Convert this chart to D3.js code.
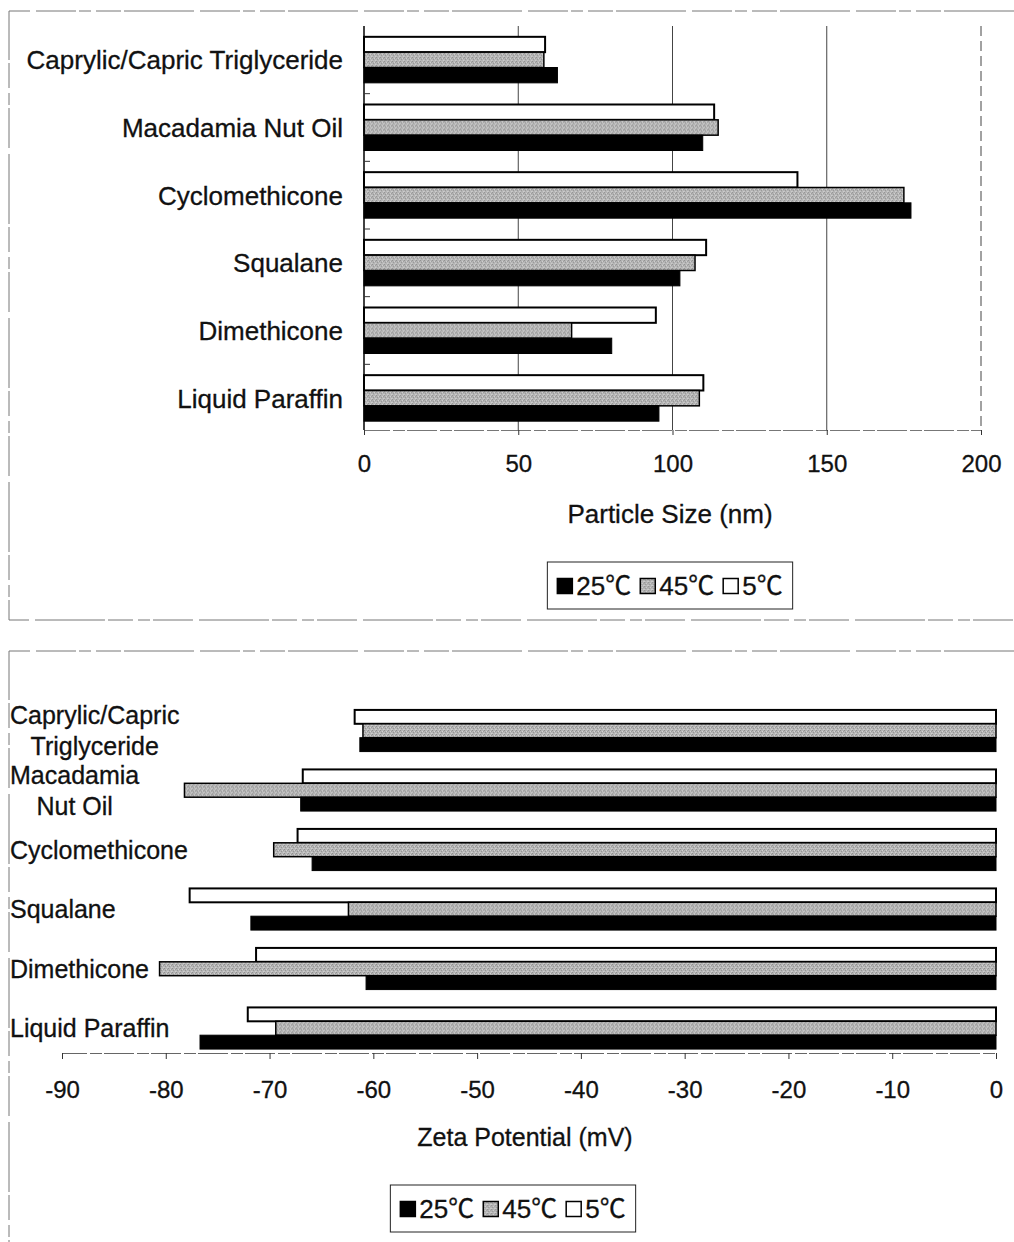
<!DOCTYPE html>
<html>
<head>
<meta charset="utf-8">
<script src="https://cdn.jsdelivr.net/npm/d3@7"></script>
<style>
  html, body { margin: 0; padding: 0; background: #fff; }
  svg { display: block; }
  text { font-family: "Liberation Sans", Arial, "Noto Sans CJK SC", sans-serif; fill: #111; stroke: #111; stroke-width: 0.3px; }
</style>
</head>
<body>
<svg id="chart" width="1014" height="1242"></svg>
<script>
// Oil phases, listed top to bottom
const categories = ["Caprylic/Capric Triglyceride", "Macadamia Nut Oil", "Cyclomethicone", "Squalane", "Dimethicone", "Liquid Paraffin"];
// Wrapped labels used on the zeta potential panel
const categoryLines = [["Caprylic/Capric", "Triglyceride"], ["Macadamia", "Nut Oil"], ["Cyclomethicone"], ["Squalane"], ["Dimethicone"], ["Liquid Paraffin"]];
// Storage temperatures (legend order)
const seriesNames = ["25℃", "45℃", "5℃"];

// Particle size (nm)
const size25 = [62.7, 109.8, 177.3, 102.4, 80.3, 95.6];
const size45 = [58.3, 114.8, 175.0, 107.3, 67.3, 108.7];
const size5  = [58.7, 113.5, 140.5, 110.9, 94.6, 110.0];

// Zeta potential (mV)
const zeta25 = [-61.3, -67.0, -65.9, -71.8, -60.7, -76.7];
const zeta45 = [-61.0, -78.2, -69.6, -62.4, -80.6, -69.4];
const zeta5  = [-61.8, -66.8, -67.3, -77.7, -71.3, -72.1];

const sizeTicks = [0, 50, 100, 150, 200];
const zetaTicks = [-90, -80, -70, -60, -50, -40, -30, -20, -10, 0];

const svg = d3.select("#chart");

// Speckled grey fill for the 45℃ series
const defs = svg.append("defs");
const pat = defs.append("pattern").attr("id", "speckle")
  .attr("patternUnits", "userSpaceOnUse").attr("width", 4).attr("height", 4);
pat.append("rect").attr("width", 4).attr("height", 4).attr("fill", "#b4b4b4");
[[0,0,"#8c8c8c"],[2,1,"#d4d4d4"],[1,2,"#949494"],[3,3,"#d0d0d0"],[3,1,"#9a9a9a"],[0,3,"#c8c8c8"]]
  .forEach(([x, y, c]) => pat.append("rect").attr("x", x).attr("y", y).attr("width", 1).attr("height", 1).attr("fill", c));

const fills = { "25℃": "#000", "45℃": "url(#speckle)", "5℃": "#fff" };
const strokeW = { "25℃": 1, "45℃": 1.5, "5℃": 2 };

// plain hyphen-minus on tick labels
const plainFmt = d => String(d);

// Broken outline around each panel
function frame(pathD) {
  svg.append("path").attr("d", pathD).attr("fill", "none")
    .attr("stroke", "#777").attr("stroke-width", 1)
    .attr("stroke-dasharray", "70,3,25,5,12,3,40,6");
}
frame("M1014,11 H9 V620 H1014");
frame("M1014,651 H9 V1242");

function legend(cx, top) {
  const g = svg.append("g");
  const items = g.selectAll("g.item").data(seriesNames).join("g").attr("class", "item");
  items.append("rect").attr("width", 15).attr("height", 15).attr("y", -7.5)
    .attr("fill", d => fills[d]).attr("stroke", "#000").attr("stroke-width", 1.5);
  items.append("text").attr("x", 19).attr("dy", "0.36em").attr("font-size", 26).text(d => d);
  let x = 0;
  const xs = [];
  items.each(function () {
    xs.push(x);
    x += this.getBBox().width + 9;
  });
  const total = x - 9;
  const left = cx - total / 2;
  items.attr("transform", (d, i) => `translate(${left + xs[i]},${top + 24})`);
  g.insert("rect", ":first-child")
    .attr("x", left - 10).attr("y", top).attr("width", total + 20).attr("height", 47)
    .attr("fill", "#fff").attr("stroke", "#222").attr("stroke-width", 1);
}

// ---------- Particle size panel ----------
{
  const x = d3.scaleLinear().domain([0, 200]).range([364, 981]);
  const y = d3.scaleBand().domain(categories).range([26, 432]).paddingInner(0.32).paddingOuter(0.16);
  const order = ["5℃", "45℃", "25℃"]; // top to bottom within a group
  const ys = d3.scaleBand().domain(order).range([0, y.bandwidth()]);
  const vals = { "25℃": size25, "45℃": size45, "5℃": size5 };

  // vertical gridlines
  svg.append("g").selectAll("line").data(sizeTicks.slice(1)).join("line")
    .attr("x1", d => x(d)).attr("x2", d => x(d)).attr("y1", 26).attr("y2", 430)
    .attr("stroke", "#444").attr("stroke-width", 1)
    .attr("stroke-dasharray", d => d === 200 ? "10,5" : null);

  const groups = svg.append("g").selectAll("g").data(categories).join("g")
    .attr("transform", c => `translate(0,${y(c)})`);
  groups.selectAll("rect").data((c, i) => order.map(s => ({ s, v: vals[s][i] }))).join("rect")
    .attr("x", x(0)).attr("y", d => ys(d.s))
    .attr("width", d => x(d.v) - x(0)).attr("height", ys.bandwidth())
    .attr("fill", d => fills[d.s]).attr("stroke", "#000").attr("stroke-width", d => strokeW[d.s]);

  // value axis
  const xa = svg.append("g").attr("transform", "translate(0,430)")
    .call(d3.axisBottom(x).tickValues(sizeTicks).tickFormat(plainFmt).tickSize(5).tickPadding(20));
  xa.select(".domain").attr("stroke", "#777").attr("stroke-dasharray", "30,3,12,2");
  xa.selectAll(".tick line").attr("stroke", "#333");
  xa.selectAll("text").attr("font-size", 24).attr("fill", "#111");

  // category axis
  svg.append("line").attr("x1", 364).attr("x2", 364).attr("y1", 26).attr("y2", 430)
    .attr("stroke", "#000").attr("stroke-width", 1.5);
  svg.append("g").selectAll("line").data(d3.range(1, 6)).join("line")
    .attr("x1", 364).attr("x2", 370)
    .attr("y1", i => y.range()[0] + i * y.step()).attr("y2", i => y.range()[0] + i * y.step())
    .attr("stroke", "#333");
  svg.append("g").selectAll("text").data(categories).join("text")
    .attr("x", 343).attr("y", c => y(c) + y.bandwidth() / 2).attr("dy", "0.36em")
    .attr("text-anchor", "end").attr("font-size", 26).text(c => c);

  svg.append("text").attr("x", 670).attr("y", 514).attr("dy", "0.36em")
    .attr("text-anchor", "middle").attr("font-size", 26).text("Particle Size (nm)");

  legend(670, 562);
}

// ---------- Zeta potential panel ----------
{
  const x = d3.scaleLinear().domain([-90, 0]).range([62, 996]);
  const y = d3.scaleBand().domain(categories).range([701, 1058]).paddingInner(0.3).paddingOuter(0.15);
  const order = ["5℃", "45℃", "25℃"];
  const ys = d3.scaleBand().domain(order).range([0, y.bandwidth()]);
  const vals = { "25℃": zeta25, "45℃": zeta45, "5℃": zeta5 };

  const groups = svg.append("g").selectAll("g").data(categories).join("g")
    .attr("transform", c => `translate(0,${y(c)})`);
  groups.selectAll("rect").data((c, i) => order.map(s => ({ s, v: vals[s][i] }))).join("rect")
    .attr("x", d => x(d.v)).attr("y", d => ys(d.s))
    .attr("width", d => x(0) - x(d.v)).attr("height", ys.bandwidth())
    .attr("fill", d => fills[d.s]).attr("stroke", "#000").attr("stroke-width", d => strokeW[d.s]);

  const xa = svg.append("g").attr("transform", "translate(0,1053)")
    .call(d3.axisBottom(x).tickValues(zetaTicks).tickFormat(plainFmt).tickSize(6).tickPadding(22));
  xa.select(".domain").attr("stroke", "#666").attr("stroke-dasharray", "30,3,12,2");
  xa.selectAll(".tick line").attr("stroke", "#333");
  xa.selectAll("text").attr("font-size", 24).attr("fill", "#111");

  // wrapped labels: lines centred on each other, block flush left
  const lab = svg.append("g").selectAll("text").data(categories).join("text")
    .attr("font-size", 25).attr("text-anchor", "middle");
  lab.each(function (c, i) {
    const t = d3.select(this);
    const lines = categoryLines[i];
    const lineH = 31;
    const cy = y(c) + y.bandwidth() / 2 - (lines.length - 1) * lineH / 2;
    lines.forEach((ln, k) => t.append("tspan").attr("x", 0).attr("y", cy + k * lineH).attr("dy", "0.36em").text(ln));
    const w = this.getBBox().width;
    t.selectAll("tspan").attr("x", 10 + w / 2);
  });

  svg.append("text").attr("x", 525).attr("y", 1137).attr("dy", "0.36em")
    .attr("text-anchor", "middle").attr("font-size", 25).text("Zeta Potential (mV)");

  legend(513, 1185);
}
</script>
</body>
</html>
